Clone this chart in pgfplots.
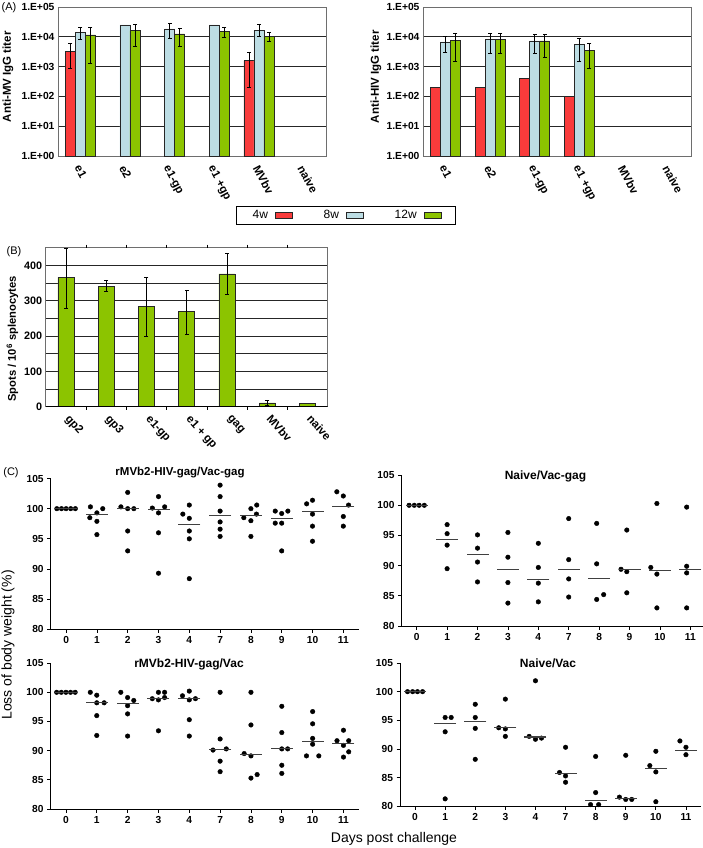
\documentclass[border=0pt]{standalone}
\usepackage{fontspec}
\setmainfont{Liberation Sans}
\usepackage{pgfplots}
\pgfplotsset{compat=1.18}
\definecolor{cred}{RGB}{249,59,59}
\definecolor{cblue}{RGB}{188,221,228}
\definecolor{cgreen}{RGB}{140,196,0}
\definecolor{cframe}{RGB}{110,110,110}
\begin{document}
\begin{tikzpicture}[x=1pt,y=1pt]
\useasboundingbox (0,0) rectangle (703,-848);

% ---------- Panel A left ----------
\begin{axis}[at={(58pt,-156pt)}, anchor=south west,
    scale only axis, width=268pt, height=149pt,
    ybar, bar width=10pt,
    ymode=log, ymin=1, ymax=100000,
    xmin=-0.5, xmax=5.5, xtick={0,1,2,3,4,5},
    xticklabels={e1,e2,e1-gp,e1 +gp,MVbv,naive},
    ytick={1,10,100,1000,10000,100000},
    yticklabels={1.E+00,1.E+01,1.E+02,1.E+03,1.E+04,1.E+05},
    ymajorgrids, major grid style={black!85, line width=0.7pt},
    axis line style={cframe, line width=0.7pt},
    major tick length=0pt, minor tick length=0pt, yminorticks=false,
    tick label style={font=\fontsize{10.3}{12}\selectfont\bfseries},
    x tick label style={font=\fontsize{11.5}{13}\selectfont\bfseries, xshift=1pt, yshift=-8pt, rotate=-62, anchor=north west, inner sep=0pt},
    ylabel style={font=\fontsize{11.5}{13}\selectfont\bfseries, at={(axis description cs:-0.1866,0.532)}, anchor=center},
    ylabel={Anti-MV IgG titer},
    unbounded coords=jump,
]
\addplot[fill=cred, draw=black!85, line width=0.6pt, bar shift=-10pt] coordinates {(0,3200) (4,1600)};
\addplot[fill=cblue, draw=black!85, line width=0.6pt, bar shift=0pt] coordinates {(0,14000) (1,25000) (2,18500) (3,25000) (4,16500)};
\addplot[fill=cgreen, draw=black!85, line width=0.6pt, bar shift=10pt] coordinates {(0,11500) (1,16000) (2,12500) (3,15000) (4,10500)};
% error bars (low, high)
\addplot[sharp plot, black, line width=0.6pt, mark=-, mark size=2pt, mark options={solid}] coordinates {
 (-0.224,850) (-0.224,5900) (-0.224,nan)
 (3.776,200) (3.776,3000) (3.776,nan)
 (0,8000) (0,21000) (0,nan)
 (2,9200) (2,28000) (2,nan)
 (4,10000) (4,27000) (4,nan)
 (0.224,1260) (0.224,21000) (0.224,nan)
 (1.224,4800) (1.224,26000) (1.224,nan)
 (2.224,4800) (2.224,20000) (2.224,nan)
 (3.224,9400) (3.224,21000) (3.224,nan)
 (4.224,7000) (4.224,14000)
};
\end{axis}

% ---------- legend (own empty axis) ----------
\begin{axis}[at={(346pt,-206pt)}, anchor=north, hide axis, scale only axis,
  width=10pt, height=10pt, xmin=0, xmax=1, ymin=0, ymax=1,
  legend columns=3, legend plot pos=right,
  legend style={at={(0.5,1)}, anchor=north, draw=black, line width=0.6pt,
    font=\fontsize{12}{13}\selectfont, inner xsep=14pt, inner ysep=2pt,
    /tikz/every odd column/.append style={column sep=5pt},
    /tikz/every even column/.append style={column sep=29pt}},
]
\addlegendimage{area legend, fill=cred, draw=black!85, line width=0.6pt}
\addlegendentry{4w}
\addlegendimage{area legend, fill=cblue, draw=black!85, line width=0.6pt}
\addlegendentry{8w}
\addlegendimage{area legend, fill=cgreen, draw=black!85, line width=0.6pt}
\addlegendentry{12w}
\end{axis}

% ---------- Panel A right ----------
\begin{axis}[at={(423pt,-156pt)}, anchor=south west,
    scale only axis, width=268pt, height=149pt,
    ybar, bar width=10pt,
    ymode=log, ymin=1, ymax=100000,
    xmin=-0.5, xmax=5.5, xtick={0,1,2,3,4,5},
    xticklabels={e1,e2,e1-gp,e1 +gp,MVbv,naive},
    ytick={1,10,100,1000,10000,100000},
    yticklabels={1.E+00,1.E+01,1.E+02,1.E+03,1.E+04,1.E+05},
    ymajorgrids, major grid style={black!85, line width=0.7pt},
    axis line style={cframe, line width=0.7pt},
    major tick length=0pt, minor tick length=0pt, yminorticks=false,
    tick label style={font=\fontsize{10.3}{12}\selectfont\bfseries},
    x tick label style={font=\fontsize{11.5}{13}\selectfont\bfseries, xshift=1pt, yshift=-8pt, rotate=-62, anchor=north west, inner sep=0pt},
    ylabel style={font=\fontsize{11.5}{13}\selectfont\bfseries, at={(axis description cs:-0.1754,0.532)}, anchor=center},
    ylabel={Anti-HIV IgG titer},
    unbounded coords=jump,
]
\addplot[fill=cred, draw=black!85, line width=0.6pt, bar shift=-10pt] coordinates {(0,200) (1,200) (2,390) (3,100)};
\addplot[fill=cblue, draw=black!85, line width=0.6pt, bar shift=0pt] coordinates {(0,6700) (1,8300) (2,7300) (3,5600)};
\addplot[fill=cgreen, draw=black!85, line width=0.6pt, bar shift=10pt] coordinates {(0,7400) (1,8300) (2,7300) (3,3450)};
\addplot[sharp plot, black, line width=0.6pt, mark=-, mark size=2pt, mark options={solid}] coordinates {
 (0,3000) (0,10700) (0,nan)
 (1,2800) (1,13000) (1,nan)
 (2,2800) (2,12000) (2,nan)
 (3,1470) (3,9100) (3,nan)
 (0.224,1500) (0.224,13000) (0.224,nan)
 (1.224,2800) (1.224,13500) (1.224,nan)
 (2.224,2000) (2.224,12000) (2.224,nan)
 (3.224,880) (3.224,6000)
};
\end{axis}

% ---------- Panel B ----------
\begin{axis}[at={(45.7pt,-406.7pt)}, anchor=south west,
  scale only axis, width=282pt, height=159pt,
  ybar, bar width=16pt,
  ymin=0, ymax=450, xmin=-0.5, xmax=6.5,
  xtick={0,1,2,3,4,5,6}, xticklabels={gp2,gp3,e1-gp,e1 + gp,gag,MVbv,naive},
  ytick={0,100,200,300,400}, minor ytick={50,150,250,350,450},
  ymajorgrids, yminorgrids,
  major grid style={black!85, line width=0.7pt}, minor grid style={black!85, line width=0.7pt},
  axis line style={cframe, line width=0.7pt},
  major tick length=0pt, minor tick length=0pt,
  /pgf/number format/assume math mode=true,
  tick label style={font=\fontsize{10.8}{12}\selectfont\bfseries},
  x tick label style={font=\fontsize{11.5}{13}\selectfont\bfseries, xshift=5pt, yshift=-7pt, rotate=-48, anchor=north west, inner sep=0pt},
  ylabel={Spots / 10\textsuperscript{6} splenocytes},
  ylabel style={font=\fontsize{11.2}{13}\selectfont\bfseries, at={(axis description cs:-0.118,0.426)}, anchor=center},
  extra x ticks={0.5,1.5,2.5,3.5,4.5,5.5}, extra x tick labels={},
  extra x tick style={major tick length=3pt, tick align=outside, tick style={black, line width=0.6pt}},
  unbounded coords=jump,
]
\addplot[fill=cgreen, draw=black!85, line width=0.6pt, bar shift=0pt] coordinates {
 (0,366) (1,341.5) (2,284) (3,269) (4,376) (5,11) (6,8.5)
};
\addplot[sharp plot, black, line width=0.6pt, mark=-, mark size=2pt, mark options={solid}] coordinates {
 (0,279) (0,449) (0,nan)
 (1,326) (1,357) (1,nan)
 (2,199) (2,367) (2,nan)
 (3,206) (3,329) (3,nan)
 (4,319) (4,433) (4,nan)
 (5,3) (5,19)
};
\draw[black, line width=0.9pt] (axis cs:-0.5,0) -- (axis cs:6.5,0);
\end{axis}

% ---------- Panel C top-left ----------
\begin{axis}[at={(50.7pt,-629.3pt)}, anchor=south west,
  scale only axis, width=308pt, height=150.8pt, clip=false,
  axis x line*=bottom, axis y line*=left, axis line style={-, black, line width=1pt},
  xmin=-0.5, xmax=9.5, ymin=80, ymax=105,
  xtick={0,1,2,3,4,5,6,7,8,9}, xticklabels={0,1,2,3,4,7,8,9,10,11},
  ytick={80,85,90,95,100,105},
  tick align=outside, major tick length=3.5pt,
  tick style={black, line width=0.8pt},
  tick label style={font=\fontsize{10.2}{12}\selectfont\bfseries},
  /pgf/number format/assume math mode=true,
]
\addplot[only marks, mark=*, mark size=2.3pt, black] coordinates {
 (-0.3,100) (-0.15,100) (0,100) (0.15,100) (0.3,100)
 (0.79,100.3) (1.19,100.0) (1,99.3) (0.77,98.5) (1,97.9) (1,95.7)
 (2,102.7) (1.78,100.3) (2,100.0) (2.2,100.0) (2,96.3) (2,93.0)
 (3,102.0) (3.2,100.3) (2.8,100.1) (3,99.3) (3,96.0) (3,89.3)
 (4,100.6) (3.79,99.1) (4,98.4) (4,96.3) (4,95.0) (4,88.4)
 (5,103.9) (5,102.0) (5,99.6) (5,97.8) (5,96.6) (5,95.4)
 (6,100.0) (6.19,100.6) (5.77,98.5) (6,98.0) (6.18,99.1) (6,95.4)
 (6.79,99.6) (7,99.2) (7.2,99.6) (6.79,97.6) (7,97.6) (7,93.0)
 (7.81,100.8) (8,101.4) (8,99.1) (8,97.1) (8,94.6)
 (8.79,102.8) (9,102.1) (9.17,100.6) (9,98.7) (9,97.1)
};
\addplot[only marks, mark=-, mark size=11pt, mark options={line width=1.1pt, draw=black!75}] coordinates {
 (0,100) (1,99.0) (2,100.0) (3,99.8) (4,97.4) (5,98.8) (6,98.9) (7,98.3) (8,99.6) (9,100.3)
};
\end{axis}

% ---------- Panel C top-right ----------
\begin{axis}[at={(401.5pt,-626pt)}, anchor=south west,
  scale only axis, width=301pt, height=150.9pt, clip=false,
  axis x line*=bottom, axis y line*=left, axis line style={-, black, line width=1pt},
  xmin=-0.5, xmax=9.4, ymin=80, ymax=105,
  xtick={0,1,2,3,4,5,6,7,8,9}, xticklabels={0,1,2,3,4,7,8,9,10,11},
  ytick={80,85,90,95,100,105},
  tick align=outside, major tick length=3.5pt,
  tick style={black, line width=0.8pt},
  tick label style={font=\fontsize{10.2}{12}\selectfont\bfseries},
  /pgf/number format/assume math mode=true,
]
\addplot[only marks, mark=*, mark size=2.3pt, black] coordinates {
 (-0.25,100) (-0.08,100) (0.08,100) (0.25,100)
 (1,96.8) (1,95.3) (1,93.4) (1,89.5)
 (2,95.1) (2,92.9) (2,90.6) (2,87.3)
 (3,95.5) (3,91.4) (3,87.2) (3,83.8)
 (4,93.7) (4,89.7) (4,87.1) (4,84.0)
 (5,97.8) (5,91.0) (5,87.8) (5,84.8)
 (5.92,97.0) (5.92,90.3) (5.92,84.4) (6.15,85.2)
 (6.91,95.9) (6.72,89.4) (6.91,89.0) (6.91,85.5)
 (7.9,100.3) (7.7,89.7) (7.9,88.6) (7.9,83.0)
 (8.88,99.7) (8.88,89.9) (8.88,88.8) (8.88,83.0)
};
\addplot[only marks, mark=-, mark size=11pt, mark options={line width=1.1pt, draw=black!75}] coordinates {
 (0,100) (1,94.4) (2,91.8) (3,89.3) (4,87.7) (5,89.4) (6,87.8) (7,89.3) (8,89.2) (9,89.4)
};
\end{axis}

% ---------- Panel C bottom-left ----------
\begin{axis}[at={(50.5pt,-809pt)}, anchor=south west,
  scale only axis, width=308.4pt, height=145.9pt, clip=false,
  axis x line*=bottom, axis y line*=left, axis line style={-, black, line width=1pt},
  xmin=-0.5, xmax=9.5, ymin=80, ymax=105,
  xtick={0,1,2,3,4,5,6,7,8,9}, xticklabels={0,1,2,3,4,7,8,9,10,11},
  ytick={80,85,90,95,100,105},
  tick align=outside, major tick length=3.5pt,
  tick style={black, line width=0.8pt},
  tick label style={font=\fontsize{10.2}{12}\selectfont\bfseries},
  /pgf/number format/assume math mode=true,
]
\addplot[only marks, mark=*, mark size=2.3pt, black] coordinates {
 (-0.3,100) (-0.15,100) (0,100) (0.15,100) (0.3,100)
 (0.79,100) (1,99.5) (1,98.2) (1.24,98.2) (1,96.0) (1,92.6)
 (1.78,100) (2,99.1) (2.2,98.6) (2,97.7) (2,96.3) (2,92.5)
 (3,100) (3.2,100) (2.8,98.9) (3,98.7) (3.2,99.1) (3,93.4)
 (3.78,99.4) (4,100.2) (4,98.7) (4.2,98.9) (4,95.3) (4,92.5)
 (5,100) (5,92.0) (4.77,90.1) (5.2,90.3) (5,88.2) (5,86.4)
 (6,100) (6,94.4) (5.78,89.5) (6,89.1) (6.2,85.9) (6,85.3)
 (7,97.6) (7,93.1) (7,90.3) (7.19,90.3) (7,87.5) (7,86.1)
 (8,96.7) (8,94.6) (8,92.1) (8,91.1) (7.8,89.1) (8.2,89.1)
 (9,93.5) (8.79,91.7) (9.17,91.7) (9,90.9) (9.17,89.8) (9,88.9)
};
\addplot[only marks, mark=-, mark size=11pt, mark options={line width=1.1pt, draw=black!75}] coordinates {
 (0,100) (1,98.2) (2,98.1) (3,99.0) (4,98.9) (5,90.2) (6,89.4) (7,90.4) (8,91.6) (9,91.3)
};
\end{axis}

% ---------- Panel C bottom-right ----------
\begin{axis}[at={(400pt,-806.3pt)}, anchor=south west,
  scale only axis, width=301pt, height=143.3pt, clip=false,
  axis x line*=bottom, axis y line*=left, axis line style={-, black, line width=1pt},
  xmin=-0.5, xmax=9.5, ymin=80, ymax=105,
  xtick={0,1,2,3,4,5,6,7,8,9}, xticklabels={0,1,2,3,4,7,8,9,10,11},
  ytick={80,85,90,95,100,105},
  tick align=outside, major tick length=3.5pt,
  tick style={black, line width=0.8pt},
  tick label style={font=\fontsize{10.2}{12}\selectfont\bfseries},
  /pgf/number format/assume math mode=true,
]
\addplot[only marks, mark=*, mark size=2.3pt, black] coordinates {
 (-0.25,100) (-0.08,100) (0.08,100) (0.25,100)
 (1,95.5) (1.2,95.5) (1,93.0) (1,81.3)
 (2,97.8) (2,95.5) (2,93.6) (2,88.2)
 (3,98.7) (2.78,93.7) (3,93.5) (3,92.2)
 (4,101.9) (3.79,92.2) (4,91.7) (4.2,91.9)
 (5,90.3) (4.8,85.9) (5,85.3) (5,84.2)
 (6,88.7) (6,82.4) (5.83,80.3) (6.1,80.3)
 (7,88.9) (6.79,81.6) (7,81.2) (7.2,81.2)
 (8,89.6) (7.8,87.1) (8,86.0) (8,80.8)
 (8.8,91.4) (9,90.3) (9,89.0)
};
\addplot[only marks, mark=-, mark size=11pt, mark options={line width=1.1pt, draw=black!75}] coordinates {
 (0,100) (1,94.4) (2,94.8) (3,93.7) (4,92.1) (5,85.7) (6,81.0) (7,81.4) (8,86.6) (9,89.7)
};
\end{axis}

% ---------- titles and labels ----------
\node[font=\fontsize{11.5}{13}\selectfont\bfseries] at (180,-473) {rMVb2-HIV-gag/Vac-gag};
\node[font=\fontsize{12}{13}\selectfont\bfseries] at (545.5,-476) {Naive/Vac-gag};
\node[font=\fontsize{12}{13}\selectfont\bfseries] at (189,-664) {rMVb2-HIV-gag/Vac};
\node[font=\fontsize{12}{13}\selectfont\bfseries] at (548,-663) {Naive/Vac};
\node[font=\fontsize{11}{12}\selectfont] at (9,-8) {(A)};
\node[font=\fontsize{11}{12}\selectfont] at (14,-252) {(B)};
\node[font=\fontsize{11}{12}\selectfont] at (11,-473) {(C)};
\node[rotate=90, font=\fontsize{14}{16}\selectfont] at (8,-645) {Loss of body weight (\%)};
\node[font=\fontsize{14}{16}\selectfont] at (394,-839) {Days post challenge};
\end{tikzpicture}
\end{document}
